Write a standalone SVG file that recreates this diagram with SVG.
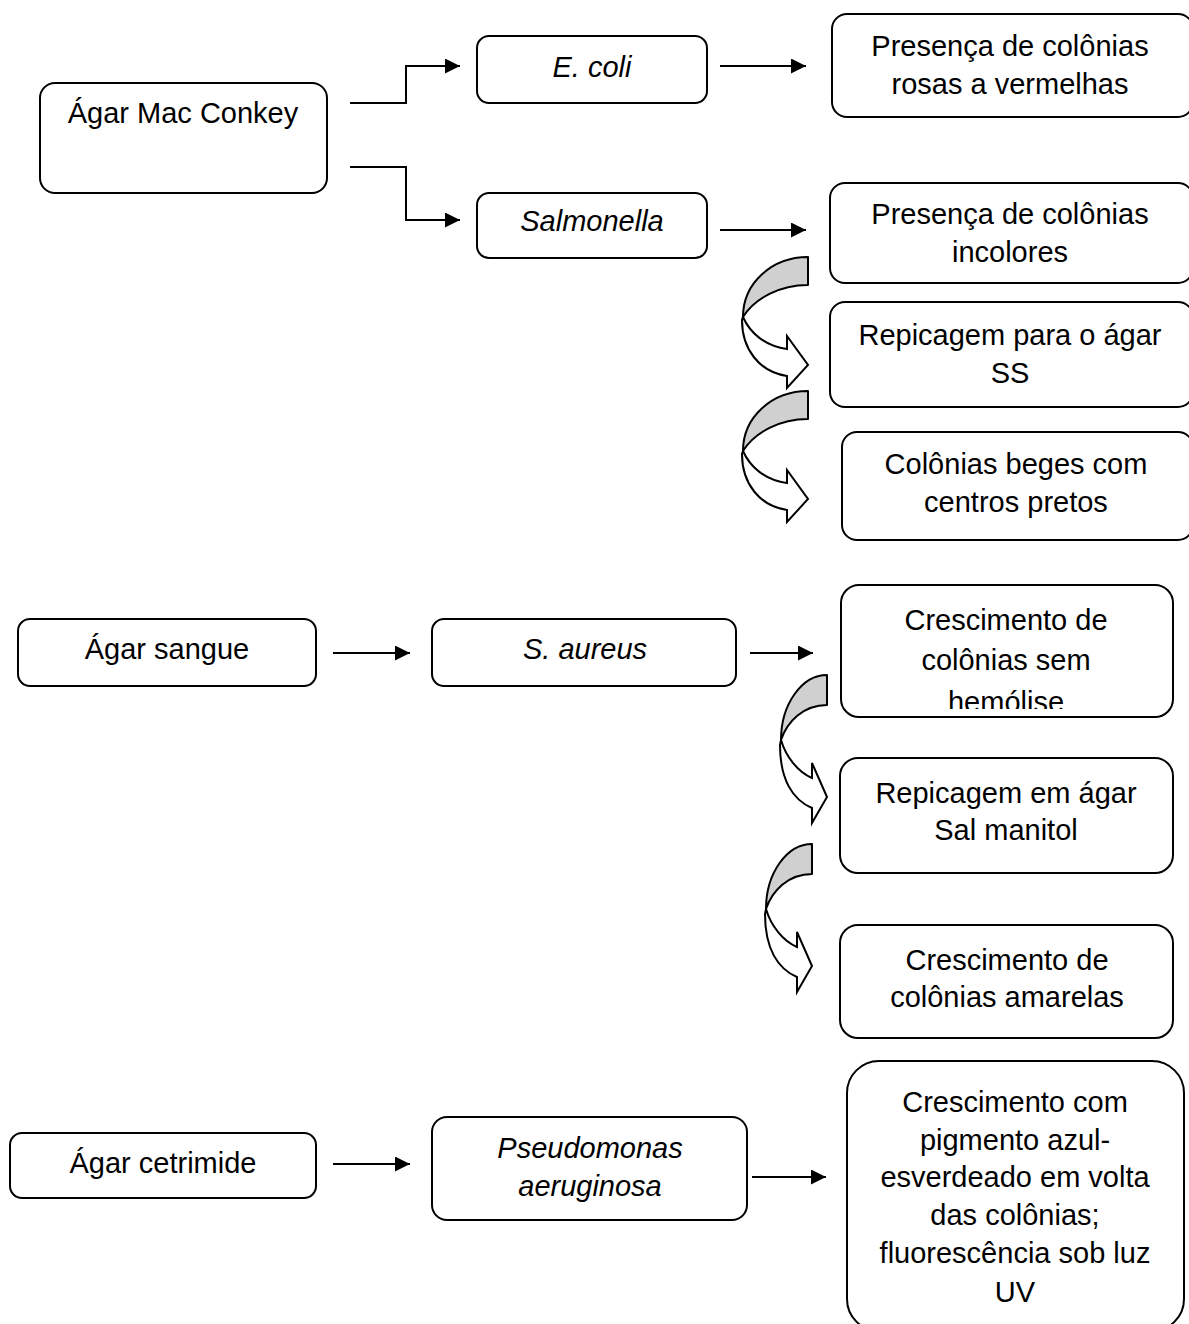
<svg xmlns="http://www.w3.org/2000/svg" width="1189" height="1324" viewBox="0 0 1189 1324">
<style>
.box{fill:#fff;stroke:#000;stroke-width:2}
.t{font-family:"Liberation Sans",Arial,sans-serif;font-size:29px;fill:#000;text-anchor:middle}
.i{font-style:italic}
.c{fill:none;stroke:#000;stroke-width:2}
.grey{fill:#d0d0d0;stroke:#000;stroke-width:2;stroke-linejoin:round}
.white{fill:#fff;stroke:#000;stroke-width:2;stroke-linejoin:miter}
</style>
<defs>
<marker id="ah" markerUnits="userSpaceOnUse" markerWidth="16" markerHeight="16" refX="15" refY="7.5" orient="auto">
<path d="M0,0 L15,7.5 L0,15 Z" fill="#000"/>
</marker>
<clipPath id="clipHem"><rect x="841" y="585" width="332" height="124"/></clipPath>
<g id="curveA">
<path class="grey" d="M808,257 C772,257 743,283 743,317 C755,298 780,285 808,285 Z"/>
<path class="white" d="M743,317 C750,333 765,346 787,349 L787,336 L808,365 L787,388 L787,376 C760,372 742,350 742,320 Z"/>
</g>
<g id="curveB">
<path class="grey" d="M827,675 C802,675 781,704 781,740 C787,722 803,705 827,705 Z"/>
<path class="white" d="M781,740 C786,757 798,772 812,778 L812,763 L827,797 L812,823 L812,808 C793,800 780,780 780,745 Z"/>
</g>
</defs>
<rect width="1189" height="1324" fill="#fff"/>

<g id="connectors">
<path class="c" d="M350,103 H406 V66 H460" marker-end="url(#ah)"/>
<path class="c" d="M350,167 H406 V220 H460" marker-end="url(#ah)"/>
<path class="c" d="M720,66 H806" marker-end="url(#ah)"/>
<path class="c" d="M720,230 H806" marker-end="url(#ah)"/>
<path class="c" d="M333,653 H410" marker-end="url(#ah)"/>
<path class="c" d="M750,653 H813" marker-end="url(#ah)"/>
<path class="c" d="M333,1164 H410" marker-end="url(#ah)"/>
<path class="c" d="M752,1177 H826" marker-end="url(#ah)"/>
<use href="#curveA"/>
<use href="#curveA" transform="translate(0,134)"/>
<use href="#curveB"/>
<use href="#curveB" transform="translate(-15,169)"/>
</g>

<g id="n-macconkey"><rect class="box" x="40" y="83" width="287" height="110" rx="15"/><text class="t" x="183" y="123">Ágar Mac Conkey</text></g>
<g id="n-ecoli"><rect class="box" x="477" y="36" width="230" height="67" rx="12"/><text class="t i" x="592" y="77">E. coli</text></g>
<g id="n-salmonella"><rect class="box" x="477" y="193" width="230" height="65" rx="12"/><text class="t i" x="592" y="231">Salmonella</text></g>
<g id="n-rosas"><rect class="box" x="832" y="14" width="361" height="103" rx="15"/><text class="t" x="1010" y="56">Presença de colônias</text><text class="t" x="1010" y="94">rosas a vermelhas</text></g>
<g id="n-incolores"><rect class="box" x="830" y="183" width="363" height="100" rx="15"/><text class="t" x="1010" y="224">Presença de colônias</text><text class="t" x="1010" y="262">incolores</text></g>
<g id="n-ss"><rect class="box" x="830" y="302" width="363" height="105" rx="15"/><text class="t" x="1010" y="345">Repicagem para o ágar</text><text class="t" x="1010" y="383">SS</text></g>
<g id="n-beges"><rect class="box" x="842" y="432" width="351" height="108" rx="15"/><text class="t" x="1016" y="474">Colônias beges com</text><text class="t" x="1016" y="512">centros pretos</text></g>

<g id="n-sangue"><rect class="box" x="18" y="619" width="298" height="67" rx="12"/><text class="t" x="167" y="659">Ágar sangue</text></g>
<g id="n-saureus"><rect class="box" x="432" y="619" width="304" height="67" rx="12"/><text class="t i" x="585" y="659">S. aureus</text></g>
<g id="n-hemolise"><rect class="box" x="841" y="585" width="332" height="132" rx="18"/><g clip-path="url(#clipHem)"><text class="t" x="1006" y="630">Crescimento de</text><text class="t" x="1006" y="670">colônias sem</text><text class="t" x="1006" y="712">hemólise</text></g></g>
<g id="n-manitol"><rect class="box" x="840" y="758" width="333" height="115" rx="18"/><text class="t" x="1006" y="803">Repicagem em ágar</text><text class="t" x="1006" y="840">Sal manitol</text></g>
<g id="n-amarelas"><rect class="box" x="840" y="925" width="333" height="113" rx="18"/><text class="t" x="1007" y="970">Crescimento de</text><text class="t" x="1007" y="1007">colônias amarelas</text></g>

<g id="n-cetrimide"><rect class="box" x="10" y="1133" width="306" height="65" rx="12"/><text class="t" x="163" y="1173">Ágar cetrimide</text></g>
<g id="n-pseudomonas"><rect class="box" x="432" y="1117" width="315" height="103" rx="15"/><text class="t i" x="590" y="1158">Pseudomonas</text><text class="t i" x="590" y="1196">aeruginosa</text></g>
<g id="n-pigmento"><rect class="box" x="847" y="1061" width="337" height="270" rx="32"/>
<text class="t" x="1015" y="1112">Crescimento com</text>
<text class="t" x="1015" y="1150">pigmento azul-</text>
<text class="t" x="1015" y="1187">esverdeado em volta</text>
<text class="t" x="1015" y="1225">das colônias;</text>
<text class="t" x="1015" y="1263">fluorescência sob luz</text>
<text class="t" x="1015" y="1302">UV</text></g>
</svg>
